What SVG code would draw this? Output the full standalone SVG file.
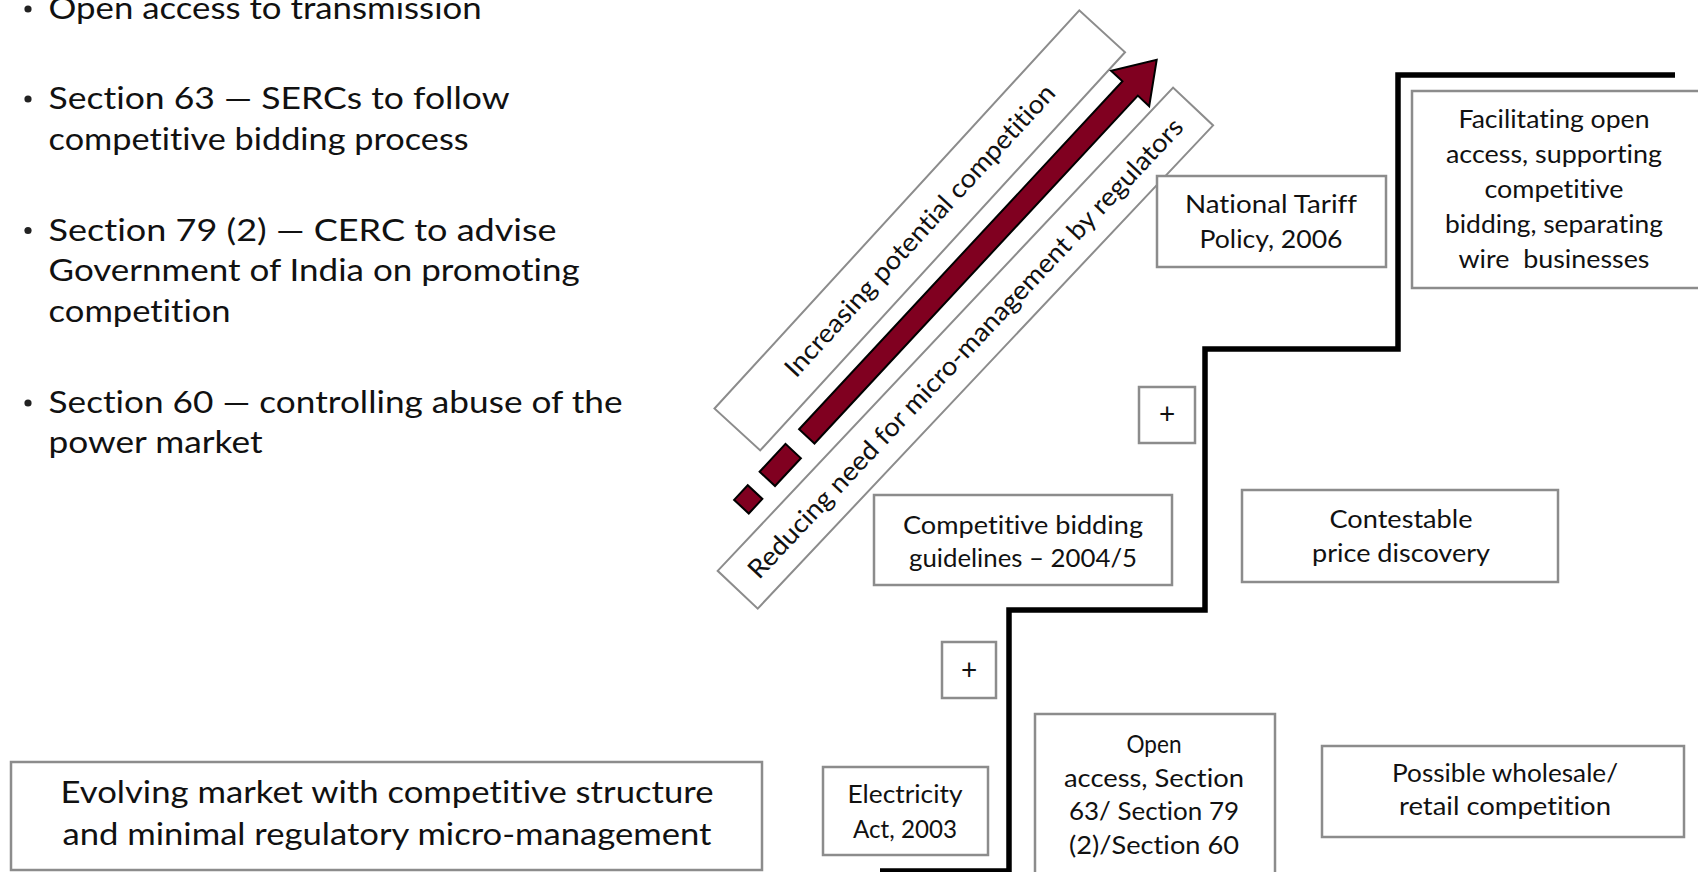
<svg xmlns="http://www.w3.org/2000/svg" width="1698" height="872" viewBox="0 0 1698 872">
  <defs>
    <style>
      text { font-family: Lato, "Liberation Sans", sans-serif; fill: #111; font-variant-ligatures: none; font-feature-settings: "liga" 0, "clig" 0; }
      .bullet-text { font-size: 31px; }
      .lbl { font-size: 25.5px; text-anchor: middle; }
      .plus { font-size: 28px; text-anchor: middle; }
      .big { font-size: 30px; text-anchor: middle; }
      .band-text { font-size: 26px; text-anchor: middle; }
      .box { fill: #fff; stroke: #8c8c8c; stroke-width: 2.5; }
      .band { fill: #fff; stroke: #8c8c8c; stroke-width: 2; }
      .dot { fill: #222; }
      .stair { fill: none; stroke: #000; stroke-width: 5.5; stroke-linejoin: miter; }
      .maroon { fill: #800020; stroke: #000; stroke-width: 2; stroke-linejoin: miter; }
    </style>
  </defs>
  <rect width="1698" height="872" fill="#fff"/>

  <!-- bullet list of Electricity Act provisions -->
  <g id="provisions">
    <circle class="dot" cx="28" cy="9" r="3.6"/>
    <text class="bullet-text" x="48.6" y="19" textLength="433" lengthAdjust="spacingAndGlyphs">Open access to transmission</text>
    <circle class="dot" cx="28" cy="99" r="3.6"/>
    <text class="bullet-text" x="48.6" y="109" textLength="461" lengthAdjust="spacingAndGlyphs">Section 63 — SERCs to follow</text>
    <text class="bullet-text" x="48.6" y="150" textLength="420" lengthAdjust="spacingAndGlyphs">competitive bidding process</text>
    <circle class="dot" cx="28" cy="230.5" r="3.6"/>
    <text class="bullet-text" x="48.6" y="240.5" textLength="508" lengthAdjust="spacingAndGlyphs">Section 79 (2) — CERC to advise</text>
    <text class="bullet-text" x="48.6" y="281" textLength="531" lengthAdjust="spacingAndGlyphs">Government of India on promoting</text>
    <text class="bullet-text" x="48.6" y="321.5" textLength="182" lengthAdjust="spacingAndGlyphs">competition</text>
    <circle class="dot" cx="28" cy="403" r="3.6"/>
    <text class="bullet-text" x="48.6" y="413" textLength="574" lengthAdjust="spacingAndGlyphs">Section 60 — controlling abuse of the</text>
    <text class="bullet-text" x="48.6" y="453" textLength="214" lengthAdjust="spacingAndGlyphs">power market</text>
  </g>

  <!-- diagonal bands and progress arrow -->
  <g id="band-competition" transform="translate(919.75 230.4) rotate(-47.5)">
    <rect class="band" x="-270" y="-31" width="540" height="62"/>
    <text class="band-text" x="0" y="9" textLength="386" lengthAdjust="spacingAndGlyphs">Increasing potential competition</text>
  </g>
  <g id="band-regulation" transform="translate(965.4 348.1) rotate(-46.7)">
    <rect class="band" x="-332" y="-27.5" width="664" height="55"/>
    <text class="band-text" x="0" y="9" textLength="621" lengthAdjust="spacingAndGlyphs">Reducing need for micro-management by regulators</text>
  </g>
  <g id="progress-arrow" transform="translate(806.8 436.4) rotate(-47.1)">
    <rect class="maroon" x="-96" y="-10" width="20" height="20"/>
    <rect class="maroon" x="-58" y="-10.5" width="38" height="21"/>
    <polygon class="maroon" points="0,-10.5 475,-10.5 475,-26 514,0 475,26 475,10.5 0,10.5"/>
  </g>

  <!-- staircase of reform steps -->
  <g id="connectors">
    <path class="stair" d="M880 871 H1009 V610 H1205 V349 H1398 V75 H1675"/>
  </g>

  <g id="evolving-market">
    <rect class="box" x="11" y="762" width="751" height="108"/>
    <text class="big" x="387" y="803" textLength="653" lengthAdjust="spacingAndGlyphs">Evolving market with competitive structure</text>
    <text class="big" x="387" y="845" textLength="649" lengthAdjust="spacingAndGlyphs">and minimal regulatory micro-management</text>
  </g>

  <g id="electricity-act">
    <rect class="box" x="823" y="767" width="165" height="88"/>
    <text class="lbl" x="905" y="803" textLength="115" lengthAdjust="spacingAndGlyphs">Electricity</text>
    <text class="lbl" x="905" y="838" textLength="104" lengthAdjust="spacingAndGlyphs">Act, 2003</text>
  </g>

  <g id="open-access">
    <rect class="box" x="1035" y="714" width="240" height="170"/>
    <text class="lbl" x="1154" y="753" textLength="55" lengthAdjust="spacingAndGlyphs">Open</text>
    <text class="lbl" x="1154" y="786.5" textLength="180" lengthAdjust="spacingAndGlyphs">access, Section</text>
    <text class="lbl" x="1154" y="820" textLength="170" lengthAdjust="spacingAndGlyphs">63/ Section 79</text>
    <text class="lbl" x="1154" y="853.5" textLength="170" lengthAdjust="spacingAndGlyphs">(2)/Section 60</text>
  </g>

  <g id="wholesale-retail">
    <rect class="box" x="1322" y="746" width="362" height="91"/>
    <text class="lbl" x="1505" y="782" textLength="226" lengthAdjust="spacingAndGlyphs">Possible wholesale/</text>
    <text class="lbl" x="1505" y="815" textLength="212" lengthAdjust="spacingAndGlyphs">retail competition</text>
  </g>

  <g id="plus-lower">
    <rect class="box" x="942" y="642" width="54" height="56"/>
    <text class="plus" x="969" y="680">+</text>
  </g>

  <g id="bidding-guidelines">
    <rect class="box" x="874" y="495" width="298" height="90"/>
    <text class="lbl" x="1023" y="534" textLength="240" lengthAdjust="spacingAndGlyphs">Competitive bidding</text>
    <text class="lbl" x="1023" y="567" textLength="228" lengthAdjust="spacingAndGlyphs">guidelines – 2004/5</text>
  </g>

  <g id="price-discovery">
    <rect class="box" x="1242" y="490" width="316" height="92"/>
    <text class="lbl" x="1401" y="528" textLength="143" lengthAdjust="spacingAndGlyphs">Contestable</text>
    <text class="lbl" x="1401" y="562" textLength="178" lengthAdjust="spacingAndGlyphs">price discovery</text>
  </g>

  <g id="plus-upper">
    <rect class="box" x="1139" y="387" width="56" height="56"/>
    <text class="plus" x="1167" y="424">+</text>
  </g>

  <g id="tariff-policy">
    <rect class="box" x="1157" y="176" width="229" height="91"/>
    <text class="lbl" x="1271" y="212.5" textLength="172" lengthAdjust="spacingAndGlyphs">National Tariff</text>
    <text class="lbl" x="1271" y="248" textLength="143" lengthAdjust="spacingAndGlyphs">Policy, 2006</text>
  </g>

  <g id="open-access-support">
    <rect class="box" x="1412" y="91" width="290" height="197"/>
    <text class="lbl" x="1554" y="128" textLength="191" lengthAdjust="spacingAndGlyphs">Facilitating open</text>
    <text class="lbl" x="1554" y="163" textLength="216" lengthAdjust="spacingAndGlyphs">access, supporting</text>
    <text class="lbl" x="1554" y="197.5" textLength="139" lengthAdjust="spacingAndGlyphs">competitive</text>
    <text class="lbl" x="1554" y="233" textLength="218" lengthAdjust="spacingAndGlyphs">bidding, separating</text>
    <text class="lbl" x="1554" y="268" textLength="191" lengthAdjust="spacingAndGlyphs" xml:space="preserve">wire  businesses</text>
  </g>
</svg>
